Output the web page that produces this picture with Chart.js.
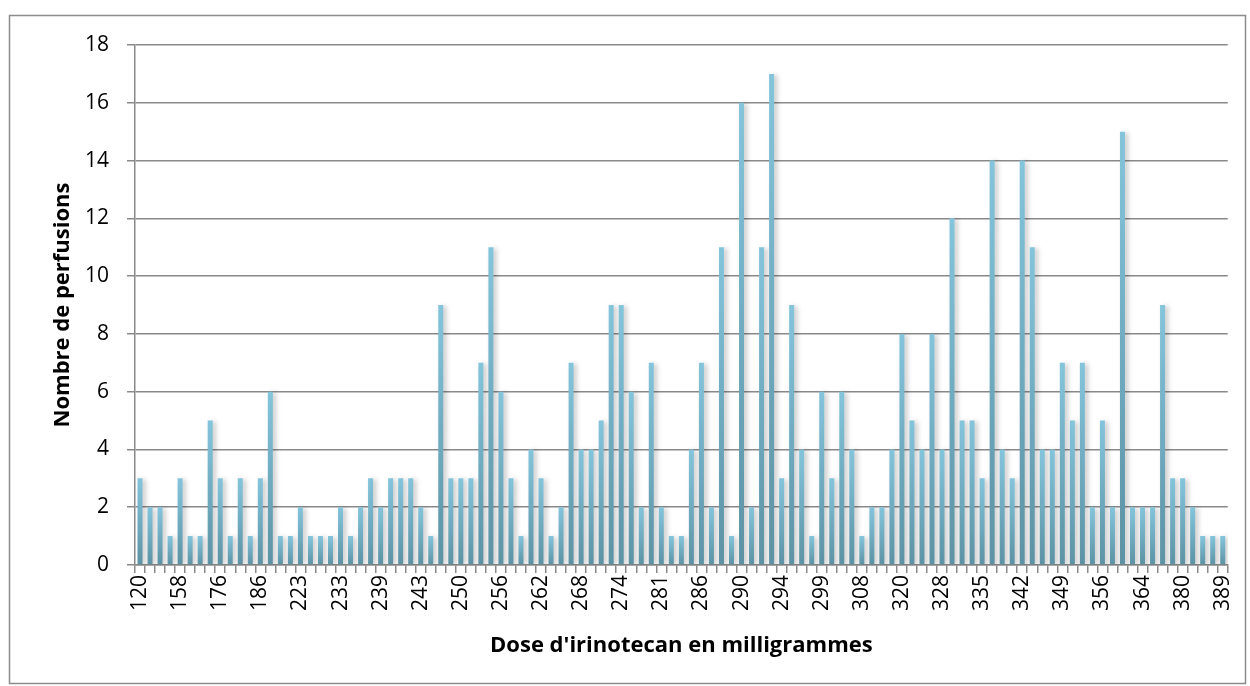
<!DOCTYPE html>
<html>
<head>
<meta charset="utf-8">
<script src="https://cdn.jsdelivr.net/npm/chart.js@4"></script>
<style>
  html, body { margin: 0; padding: 0; background: #fff; }
  #wrap { width: 1250px; height: 686px; position: relative; }
</style>
</head>
<body>
<div id="wrap"><canvas id="chart"></canvas></div>
<script>
// Visible dose labels (every 4th category)
const doseLabels = [120, 158, 176, 186, 223, 233, 239, 243, 250, 256, 262, 268, 274, 281,
                    286, 290, 294, 299, 308, 320, 328, 335, 342, 349, 356, 364, 380, 389];

// Number of infusions per dose category (109 categories)
const perfusions = [
    3, 2, 2, 1, 3, 1, 1, 5, 3, 1, 3, 1, 3, 6, 1, 1, 2, 1, 1,
    1, 2, 1, 2, 3, 2, 3, 3, 3, 2, 1, 9, 3, 3, 3, 7, 11,
    6, 3, 1, 4, 3, 1, 2, 7, 4, 4, 5, 9, 9, 6, 2, 7, 2, 1,
    1, 4, 7, 2, 11, 1, 16, 2, 11, 17, 3, 9, 4, 1, 6, 3, 6, 4,
    1, 2, 2, 4, 8, 5, 4, 8, 4, 12, 5, 5, 3, 14, 4, 3, 14, 11,
    4, 4, 7, 5, 7, 2, 5, 2, 15, 2, 2, 2, 9, 3, 3, 2, 1, 1, 1
];

const yTicks = { min: 0, max: 18, step: 2 };

// only every 4th category carries a printed label
const categories = perfusions.map((v, i) => (i % 4 === 0 ? String(doseLabels[i / 4]) : ''));

const FONT = '"Open Sans", Lato, sans-serif';
const axisGray = '#898989';

const frame = {
    id: 'frame',
    beforeDraw(chart) {
        const c = chart.ctx;
        c.save();
        c.fillStyle = '#fff';
        c.fillRect(0, 0, chart.width, chart.height);
        c.strokeStyle = '#8c8c8c';
        c.lineWidth = 1.5;
        c.strokeRect(9.5, 15.5, 1236, 668);
        c.restore();
    }
};

const barShadow = {
    id: 'barShadow',
    beforeDatasetDraw(chart) {
        const c = chart.ctx;
        c.save();
        c.shadowColor = 'rgba(0,0,0,0.22)';
        c.shadowBlur = 5;
        c.shadowOffsetX = 3;
        c.shadowOffsetY = 1;
    },
    afterDatasetDraw(chart) {
        chart.ctx.restore();
    }
};

function barFill(ctx) {
    const chart = ctx.chart;
    if (!chart.chartArea || ctx.type !== 'data') return '#74b2c7';
    const y = chart.scales.y;
    const top = y.getPixelForValue(ctx.raw);
    const base = y.getPixelForValue(0);
    const g = chart.ctx.createLinearGradient(0, top, 0, base);
    g.addColorStop(0, '#84c5dc');
    g.addColorStop(1, '#5c92a4');
    return g;
}

new Chart(document.getElementById('chart'), {
    type: 'bar',
    data: {
        labels: categories,
        datasets: [{
            data: perfusions,
            backgroundColor: barFill,
            borderWidth: 0,
            barPercentage: 0.5,
            categoryPercentage: 1.0
        }]
    },
    options: {
        responsive: true,
        maintainAspectRatio: false,
        animation: false,
        layout: { padding: { left: 0, top: 45, right: 15, bottom: 0 } },
        plugins: {
            legend: { display: false },
            tooltip: { enabled: false }
        },
        scales: {
            x: {
                grid: {
                    offset: true,
                    drawOnChartArea: false,
                    drawTicks: true,
                    tickLength: 8,
                    color: axisGray,
                    lineWidth: 1.5
                },
                border: { color: axisGray, width: 1.5 },
                ticks: {
                    autoSkip: false,
                    maxRotation: 90,
                    minRotation: 90,
                    padding: 2,
                    color: '#000',
                    font: { family: FONT, size: 21 }
                },
                title: {
                    display: true,
                    text: "Dose d'irinotecan en milligrammes",
                    color: '#000',
                    font: { family: FONT, size: 22, weight: 'bold' },
                    padding: { top: 4, bottom: 27 }
                },
                afterFit(scale) { scale.height = 121; }
            },
            y: {
                min: yTicks.min,
                max: yTicks.max,
                grid: {
                    color: axisGray,
                    lineWidth: 1.5,
                    tickLength: 8
                },
                border: { color: axisGray, width: 1.5 },
                ticks: {
                    stepSize: yTicks.step,
                    padding: 18,
                    color: '#000',
                    font: { family: FONT, size: 21 }
                },
                title: {
                    display: true,
                    text: 'Nombre de perfusions',
                    color: '#000',
                    font: { family: FONT, size: 22, weight: 'bold' },
                    padding: { top: 50, bottom: 0 }
                },
                afterFit(scale) { scale.width = 135; }
            }
        }
    },
    plugins: [frame, barShadow]
});
</script>
</body>
</html>
